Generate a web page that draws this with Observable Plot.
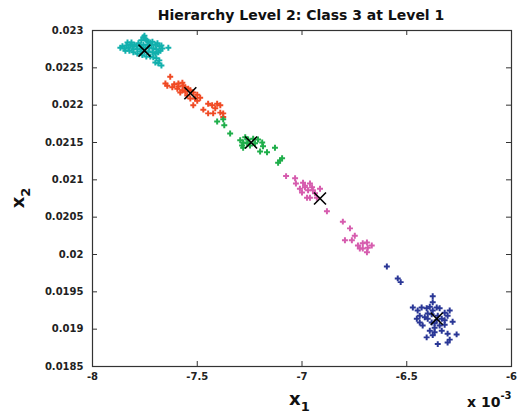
<!DOCTYPE html>
<html>
<head>
<meta charset="utf-8">
<script src="https://cdn.jsdelivr.net/npm/d3@7"></script>
<script src="https://cdn.jsdelivr.net/npm/@observablehq/plot@0.6"></script>
<style>
  html, body { margin: 0; padding: 0; background: #fff; }
  #chart svg { display: block; }
</style>
</head>
<body>
<div id="chart"></div>
<script>
// x values are in units of 1e-3 (axis shows "x 10^-3")
const xTicks = [-8, -7.5, -7, -6.5, -6];
const yTicks = [0.0185, 0.019, 0.0195, 0.02, 0.0205, 0.021, 0.0215, 0.022, 0.0225, 0.023];
const classNames = ["Class 1", "Class 2", "Class 3", "Class 4", "Class 5"];
const classColors = ["#12b0ad", "#f04a24", "#1fae4a", "#d65cae", "#2a3796"];

const class1 = [
  [-7.752,0.02293],[-7.757,0.02291],[-7.748,0.02289],[-7.767,0.02287],[-7.743,0.02287],
  [-7.733,0.02285],[-7.724,0.02284],[-7.714,0.02285],[-7.781,0.02283],[-7.800,0.02281],
  [-7.819,0.02281],[-7.838,0.02280],[-7.857,0.02279],[-7.848,0.02276],[-7.829,0.02277],
  [-7.810,0.02279],[-7.790,0.02279],[-7.771,0.02280],[-7.757,0.02281],[-7.738,0.02281],
  [-7.719,0.02281],[-7.700,0.02281],[-7.690,0.02283],[-7.681,0.02279],[-7.671,0.02280],
  [-7.843,0.02273],[-7.824,0.02273],[-7.805,0.02275],[-7.786,0.02275],[-7.767,0.02276],
  [-7.748,0.02277],[-7.729,0.02277],[-7.710,0.02276],[-7.695,0.02275],[-7.805,0.02271],
  [-7.786,0.02269],[-7.771,0.02272],[-7.752,0.02272],[-7.733,0.02272],[-7.714,0.02271],
  [-7.700,0.02269],[-7.686,0.02271],[-7.676,0.02273],[-7.667,0.02276],[-7.638,0.02277],
  [-7.762,0.02267],[-7.743,0.02265],[-7.724,0.02265],[-7.710,0.02264],[-7.695,0.02263],
  [-7.681,0.02260],[-7.686,0.02256],[-7.671,0.02253],[-7.700,0.02257],[-7.867,0.02277],
  [-7.833,0.02284],[-7.814,0.02284]
];
const class2 = [
  [-7.629,0.02238],[-7.652,0.02229],[-7.610,0.02228],[-7.590,0.02229],[-7.571,0.02230],
  [-7.567,0.02226],[-7.595,0.02222],[-7.571,0.02220],[-7.557,0.02218],[-7.543,0.02222],
  [-7.519,0.02217],[-7.500,0.02214],[-7.486,0.02210],[-7.510,0.02209],[-7.533,0.02209],
  [-7.519,0.02200],[-7.471,0.02194],[-7.448,0.02202],[-7.429,0.02200],[-7.405,0.02202],
  [-7.390,0.02200],[-7.414,0.02196],[-7.390,0.02190],[-7.376,0.02189],[-7.424,0.02189],
  [-7.448,0.02189],[-7.500,0.02206],[-7.548,0.02213],[-7.581,0.02217],[-7.619,0.02224],
  [-7.643,0.02226],[-7.376,0.02184],[-7.557,0.02224],[-7.533,0.02220],[-7.590,0.02225]
];
const class3 = [
  [-7.405,0.02178],[-7.376,0.02181],[-7.371,0.02173],[-7.343,0.02162],[-7.271,0.02157],
  [-7.281,0.02150],[-7.262,0.02149],[-7.281,0.02143],[-7.233,0.02155],[-7.210,0.02154],
  [-7.190,0.02150],[-7.186,0.02145],[-7.200,0.02138],[-7.167,0.02137],[-7.129,0.02143],
  [-7.095,0.02129],[-7.114,0.02123],[-7.248,0.02146],[-7.224,0.02149],[-7.295,0.02153],
  [-7.286,0.02146],[-7.257,0.02154],[-7.105,0.02126]
];
const class4 = [
  [-7.076,0.02105],[-7.033,0.02102],[-7.029,0.02095],[-6.995,0.02096],[-6.986,0.02090],
  [-7.010,0.02088],[-7.000,0.02083],[-6.971,0.02086],[-6.952,0.02090],[-6.948,0.02086],
  [-6.938,0.02082],[-6.914,0.02088],[-6.962,0.02076],[-6.976,0.02076],[-6.929,0.02076],
  [-6.881,0.02058],[-6.805,0.02044],[-6.771,0.02035],[-6.748,0.02025],[-6.762,0.02019],
  [-6.795,0.02019],[-6.733,0.02012],[-6.710,0.02015],[-6.690,0.02016],[-6.686,0.02009],
  [-6.667,0.02012],[-6.710,0.02008],[-6.690,0.02003],[-6.724,0.02008],[-6.986,0.02092],
  [-6.962,0.02095]
];
const class5 = [
  [-6.595,0.01984],[-6.543,0.01968],[-6.529,0.01963],[-6.376,0.01944],[-6.376,0.01936],
  [-6.471,0.01929],[-6.448,0.01925],[-6.429,0.01929],[-6.405,0.01928],[-6.390,0.01930],
  [-6.357,0.01929],[-6.343,0.01928],[-6.319,0.01922],[-6.295,0.01925],[-6.305,0.01918],
  [-6.438,0.01918],[-6.414,0.01916],[-6.400,0.01914],[-6.438,0.01909],[-6.424,0.01905],
  [-6.381,0.01909],[-6.367,0.01902],[-6.343,0.01905],[-6.319,0.01912],[-6.281,0.01910],
  [-6.390,0.01898],[-6.367,0.01896],[-6.333,0.01898],[-6.305,0.01894],[-6.262,0.01893],
  [-6.376,0.01892],[-6.405,0.01889],[-6.295,0.01886],[-6.305,0.01882],[-6.352,0.01880],
  [-6.367,0.01908],[-6.352,0.01918],[-6.333,0.01914],[-6.400,0.01921],[-6.452,0.01914],
  [-6.319,0.01906],[-6.376,0.01925],[-6.357,0.01912],[-6.381,0.01920]
];
const centroidX = [-7.752, -7.533, -7.243, -6.914, -6.357];
const centroidY = [0.02273, 0.02216, 0.02150, 0.02075, 0.01914];

const classes = [class1, class2, class3, class4, class5];
const points = classes.flatMap((pts, i) => pts.map(([x, y]) => ({x, y, cls: classNames[i]})));
const centroids = centroidX.map((x, i) => ({x, y: centroidY[i], cls: classNames[i]}));

const W = 517, H = 413;
const mL = 92, mR = 6, mT = 30, mB = 47;
const fw = W - mL - mR, fh = H - mT - mB, tl = 5;
const chart = Plot.plot({
  width: W, height: H,
  marginLeft: mL, marginRight: mR, marginTop: mT, marginBottom: mB,
  style: {fontFamily: "DejaVu Sans", fontWeight: "bold", fontSize: "10px", color: "#222", background: "#fff"},
  x: {domain: [-8, -6]},
  y: {domain: [0.0185, 0.023]},
  color: {domain: classNames, range: classColors},
  marks: [
    Plot.dot(points, {x: "x", y: "y", fill: "cls", symbol: "cross", r: 2.5}),
    Plot.dot(centroids, {x: "x", y: "y", symbol: "times", stroke: "black", r: 5.5, strokeWidth: 1.6}),
    // inward tick marks on all four sides
    Plot.tickX(xTicks, {x: d => d, insetTop: fh - tl, stroke: "#333"}),
    Plot.tickX(xTicks, {x: d => d, insetBottom: fh - tl, stroke: "#333"}),
    Plot.tickY(yTicks, {y: d => d, insetRight: fw - tl, stroke: "#333"}),
    Plot.tickY(yTicks, {y: d => d, insetLeft: fw - tl, stroke: "#333"}),
    Plot.frame({stroke: "#333", strokeWidth: 1.2}),
    Plot.axisX({ticks: xTicks, tickSize: 0, tickPadding: 6, tickFormat: d => String(d), label: null}),
    Plot.axisY({ticks: yTicks, tickSize: 0, tickPadding: 9, tickFormat: d => String(d), label: null})
  ]
});
document.getElementById("chart").appendChild(chart);

const svg = d3.select(chart);
const font = "DejaVu Sans";
svg.append("text")
  .attr("x", 301).attr("y", 20).attr("text-anchor", "middle")
  .attr("font-family", font).attr("font-weight", "bold").attr("font-size", 14).attr("fill", "#111")
  .text("Hierarchy Level 2: Class 3 at Level 1");

const xl = svg.append("text")
  .attr("x", 289).attr("y", 405).attr("text-anchor", "start")
  .attr("font-family", font).attr("font-weight", "bold").attr("font-size", 18).attr("fill", "#111");
xl.append("tspan").text("x");
xl.append("tspan").attr("font-size", 13).attr("dy", 6).text("1");

const yl = svg.append("text")
  .attr("transform", "translate(24,198) rotate(-90)").attr("text-anchor", "middle")
  .attr("font-family", font).attr("font-weight", "bold").attr("font-size", 18).attr("fill", "#111");
yl.append("tspan").text("x");
yl.append("tspan").attr("font-size", 13).attr("dy", 6).text("2");

const ex = svg.append("text")
  .attr("x", 467).attr("y", 407).attr("text-anchor", "start")
  .attr("font-family", font).attr("font-weight", "bold").attr("font-size", 14).attr("fill", "#111");
ex.append("tspan").text("x 10");
ex.append("tspan").attr("font-size", 10).attr("dy", -8).text("-3");
</script>
</body>
</html>
